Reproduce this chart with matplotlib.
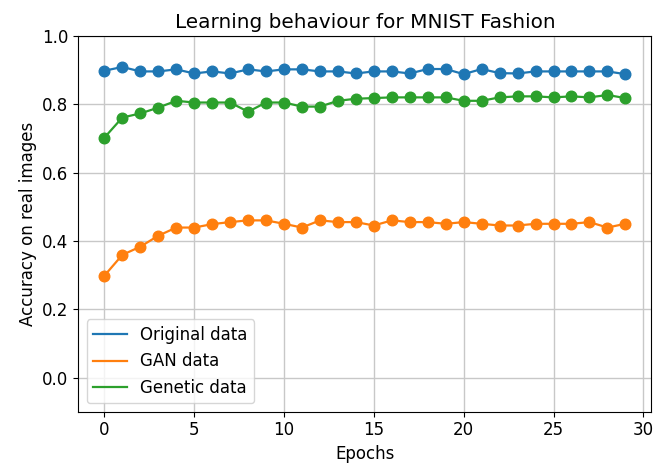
import numpy as np
import matplotlib
matplotlib.use("Agg")
import matplotlib.pyplot as plt

epochs = np.arange(30)

original = [0.898, 0.909, 0.896, 0.896, 0.902, 0.890, 0.896, 0.890, 0.902, 0.896,
            0.902, 0.902, 0.896, 0.896, 0.890, 0.896, 0.896, 0.890, 0.903, 0.903,
            0.888, 0.903, 0.891, 0.890, 0.896, 0.896, 0.896, 0.896, 0.896, 0.888]
gan = [0.298, 0.359, 0.383, 0.415, 0.439, 0.439, 0.449, 0.455, 0.460, 0.460,
       0.450, 0.439, 0.460, 0.455, 0.455, 0.445, 0.460, 0.455, 0.455, 0.450,
       0.455, 0.450, 0.445, 0.445, 0.450, 0.450, 0.450, 0.455, 0.439, 0.450]
genetic = [0.702, 0.761, 0.773, 0.790, 0.810, 0.805, 0.805, 0.805, 0.778, 0.805,
           0.805, 0.793, 0.793, 0.810, 0.816, 0.818, 0.820, 0.820, 0.820, 0.820,
           0.810, 0.810, 0.820, 0.823, 0.823, 0.820, 0.823, 0.820, 0.827, 0.818]

labels = ["Original data", "GAN data", "Genetic data"]
colors = ["#1f77b4", "#ff7f0e", "#2ca02c"]

plt.rcParams["font.size"] = 12

fig = plt.figure(figsize=(6.58, 4.66), dpi=100)
ax = fig.add_axes([0.119, 0.1165, 0.871, 0.8065])

# lines for legend, markers drawn on top with same color
for data, lab, c in zip([original, gan, genetic], labels, colors):
    ax.plot(epochs, data, color=c, lw=1.6, label=lab)
    ax.scatter(epochs, data, color=c, s=58, zorder=3)

ax.set_ylim(-0.1, 1.0)
ax.set_yticks([0.0, 0.2, 0.4, 0.6, 0.8, 1.0])
ax.set_xticks([0, 5, 10, 15, 20, 25, 30])
ax.grid(True, color="#c8c8c8", lw=1)
ax.set_axisbelow(True)

ax.set_title("Learning behaviour for MNIST Fashion")
ax.set_xlabel("Epochs")
ax.set_ylabel("Accuracy on real images")
ax.legend(loc="lower left")

fig.savefig("out.png", dpi=100)
